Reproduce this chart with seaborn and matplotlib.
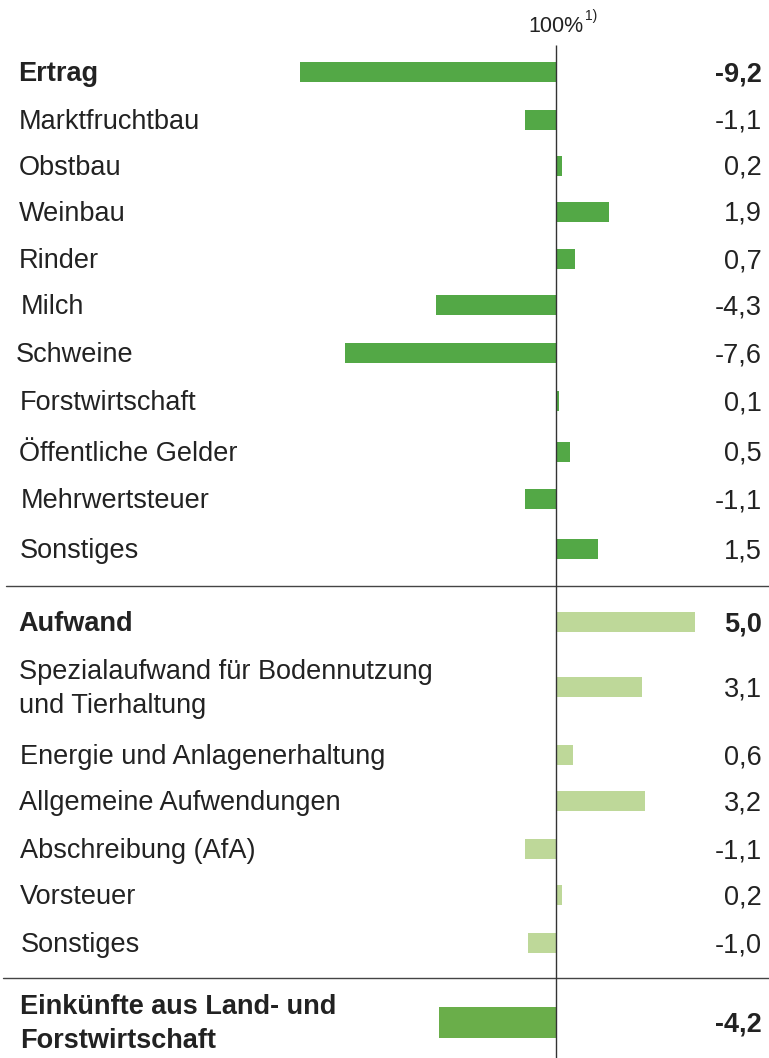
import numpy as np
import pandas as pd
import matplotlib
matplotlib.use("Agg")
import matplotlib.pyplot as plt
import matplotlib.transforms as mtransforms
import seaborn as sns

# ---------------- data ----------------
ertrag_labels = ["Ertrag", "Marktfruchtbau", "Obstbau", "Weinbau", "Rinder", "Milch",
                 "Schweine", "Forstwirtschaft", "Öffentliche Gelder", "Mehrwertsteuer", "Sonstiges"]
ertrag_values = [-9.2, -1.1, 0.2, 1.9, 0.7, -4.3, -7.6, 0.1, 0.5, -1.1, 1.5]

aufwand_labels = ["Aufwand", "Spezialaufwand für Bodennutzung\nund Tierhaltung",
                  "Energie und Anlagenerhaltung", "Allgemeine Aufwendungen",
                  "Abschreibung (AfA)", "Vorsteuer", "Sonstiges"]
aufwand_values = [5.0, 3.1, 0.6, 3.2, -1.1, 0.2, -1.0]

total_labels = ["Einkünfte aus Land- und\nForstwirtschaft"]
total_values = [-4.2]

header_text = "100%"
header_note = "1)"

# ---------------- layout (pixel rows) ----------------
W, H = 769, 1058
ertrag_rows = [72, 120, 166, 212, 259, 305, 353, 401, 452, 499, 549]
aufwand_rows = [622, 687, 755, 801, 849, 895, 943]
total_rows = [1022]
label_x = [18, 19, 19, 19, 19, 21, 16, 20, 19, 21, 20]
aufwand_label_x = [18, 19, 20, 19, 20, 20, 21]
TEXT_DY = 2

zero_px = 556
px_per_unit = 27.8

C_DARK = "#53a846"
C_LIGHT = "#bed899"
C_TOTAL = "#6aae4a"
TXT = "#222222"

sns.set_theme(style="white")
plt.rcParams["font.family"] = ["Liberation Sans", "DejaVu Sans"]

fig = plt.figure(figsize=(W / 100, H / 100), dpi=100)
ax = fig.add_axes([0, 0, 1, 1])

def draw_group(labels, values, rows, color, bar_px):
    df = pd.DataFrame({"pos": rows, "val": values, "lab": labels})
    if len(rows) > 1:
        unit = np.min(np.diff(np.sort(rows)))
    else:
        unit = 1.0
    sns.barplot(data=df, x="val", y="pos", orient="y", native_scale=True,
                color=color, saturation=1, width=bar_px / unit, errorbar=None,
                linewidth=0, ax=ax)

draw_group(ertrag_labels, ertrag_values, ertrag_rows, C_DARK, 20)
draw_group(aufwand_labels, aufwand_values, aufwand_rows, C_LIGHT, 20)
draw_group(total_labels, total_values, total_rows, C_TOTAL, 31)

ax.set_xlim(-zero_px / px_per_unit, (W - zero_px) / px_per_unit)
ax.set_ylim(H, 0)
ax.set_axis_off()

# zero line
ax.vlines(0, 45, H, color="#333333", lw=1.0, zorder=5)

# separators
trans = mtransforms.blended_transform_factory(ax.transAxes, ax.transData)
ax.plot([6 / W, 1], [586, 586], color="#444444", lw=1.0, transform=trans)
ax.plot([3 / W, 1], [978, 978], color="#444444", lw=1.0, transform=trans)

REG = 19.5
BOLD = 19.5

def put_rows(labels, values, rows, xs, bold_first):
    for i, (lab, val, y) in enumerate(zip(labels, values, rows)):
        bold = bold_first and i == 0
        fw = "bold" if bold else "normal"
        fs = BOLD if bold else REG
        ax.text(xs[i] / W, y + TEXT_DY, lab, transform=trans, ha="left", va="center",
                fontsize=fs, fontweight=fw, color=TXT, linespacing=1.4)
        ax.text(762 / W, y + TEXT_DY, f"{val:.1f}".replace(".", ","), transform=trans,
                ha="right", va="center", fontsize=fs, fontweight=fw, color=TXT)

put_rows(ertrag_labels, ertrag_values, ertrag_rows, label_x, True)
put_rows(aufwand_labels, aufwand_values, aufwand_rows, aufwand_label_x, True)
put_rows(total_labels, total_values, total_rows, [20], True)

# header
ax.text(583 / W, 26, header_text, transform=trans, ha="right", va="center",
        fontsize=15.5, color=TXT)
ax.text(585 / W, 16, header_note, transform=trans, ha="left", va="center",
        fontsize=10, color=TXT)

fig.savefig("out.png", dpi=100, facecolor="white")
